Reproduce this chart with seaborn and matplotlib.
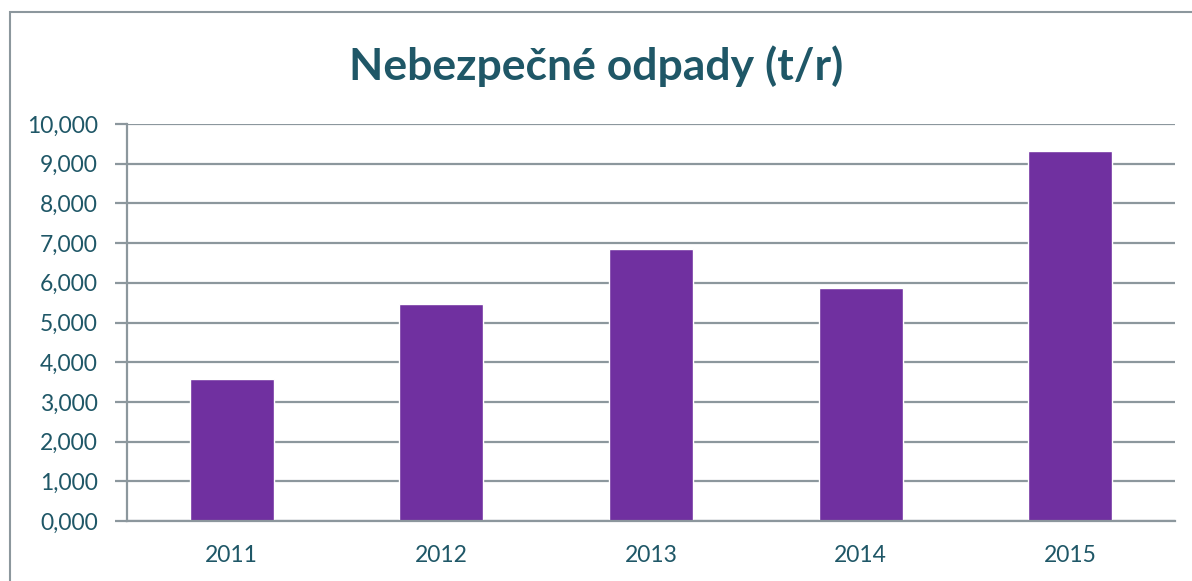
import matplotlib
matplotlib.use("Agg")
import matplotlib.pyplot as plt
import seaborn as sns
import pandas as pd
from matplotlib.patches import Rectangle
from matplotlib.ticker import FuncFormatter, FixedLocator

# data (t/r, shown in thousands with 3 decimals)
years = ["2011", "2012", "2013", "2014", "2015"]
values = [3.58, 5.47, 6.86, 5.87, 9.33]
y_ticks = [0, 1, 2, 3, 4, 5, 6, 7, 8, 9, 10]

text_color = "#1F5767"
grid_color = "#8C979D"
bar_color = "#7030A0"

sns.set_style("white")
plt.rcParams["font.family"] = ["Lato", "DejaVu Sans"]

df = pd.DataFrame({"year": years, "value": values})

fig = plt.figure(figsize=(11.92, 5.81), dpi=100)
ax = fig.add_axes([127 / 1192, 60 / 581, 1048 / 1192, 397 / 581])

sns.barplot(data=df, x="year", y="value", color=bar_color, width=0.4,
            saturation=1, ax=ax)

ax.set_ylim(0, 10)
ax.set_xlim(-0.5, len(years) - 0.5)
ax.set_yticks(y_ticks)
ax.yaxis.set_major_formatter(FuncFormatter(lambda v, p: f"{v:.3f}".replace(".", ",")))
ax.yaxis.grid(True, color=grid_color, linewidth=1.6)
ax.set_axisbelow(True)

# category boundaries get the x tick marks
ax.xaxis.set_major_locator(FixedLocator([i - 0.5 for i in range(len(years) + 1)]))
ax.xaxis.set_minor_locator(FixedLocator(range(len(years))))
ax.set_xticklabels([])
ax.set_xticklabels(years, minor=True)
ax.tick_params(axis="x", which="major", length=7, width=1.6, color=grid_color, direction="out")
ax.tick_params(axis="x", which="minor", length=0, pad=17, labelsize=16.5, labelcolor=text_color)
ax.tick_params(axis="y", length=9, width=1.6, color=grid_color, labelsize=16.5,
               labelcolor=text_color, pad=12, left=True)

for side in ["top", "right"]:
    ax.spines[side].set_visible(False)
for side in ["left", "bottom"]:
    ax.spines[side].set_color(grid_color)
    ax.spines[side].set_linewidth(1.6)

ax.set_xlabel("")
ax.set_ylabel("")

fig.text(0.5, 1 - 66 / 581, "Nebezpečné odpady (t/r)", ha="center", va="center",
         fontsize=32, fontweight="bold", color=text_color)

# chart frame
fig.patches.append(Rectangle((10 / 1192, -0.1), 1.2, 1 - 12 / 581 + 0.1,
                             transform=fig.transFigure, fill=False,
                             edgecolor=grid_color, linewidth=1.5))

fig.savefig("out.png", dpi=100)
